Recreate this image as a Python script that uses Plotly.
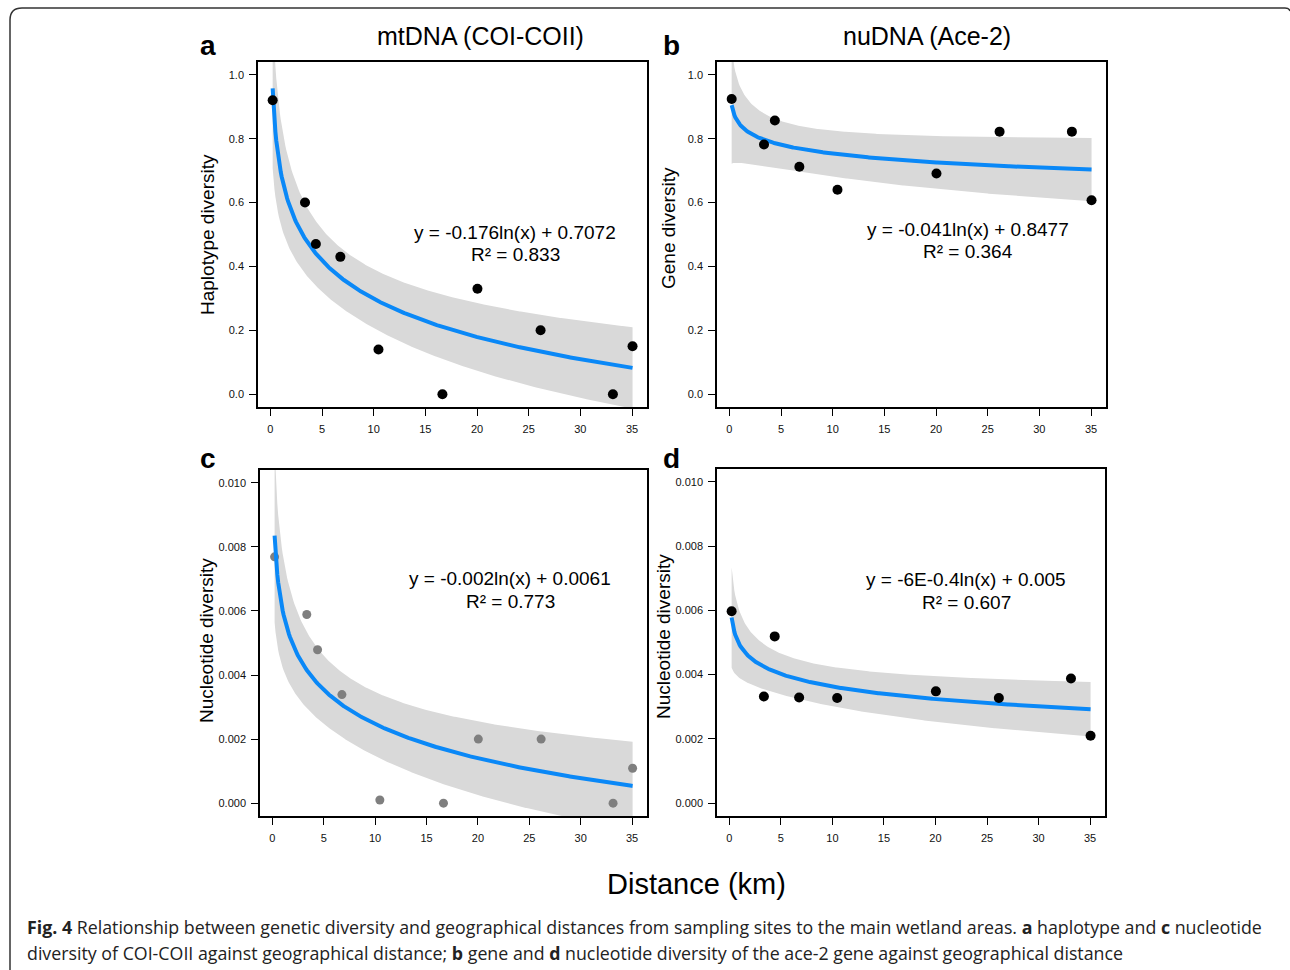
import numpy as np
import plotly.graph_objects as go

# ---------------- data ----------------
dist_mt = [0.22, 3.35, 4.4, 6.77, 10.46, 16.65, 20.04, 26.15, 33.15, 35.05]
dist_nu = [0.22, 3.35, 4.4, 6.77, 10.46, 20.04, 26.15, 33.15, 35.05]

hap_div = [0.92, 0.60, 0.47, 0.43, 0.14, 0.00, 0.33, 0.20, 0.00, 0.15]
gene_div = [0.924, 0.782, 0.857, 0.712, 0.640, 0.691, 0.822, 0.822, 0.607]
nuc_mt = [0.00769, 0.00589, 0.00479, 0.00339, 0.0001, 0.0, 0.0020, 0.0020, 0.0, 0.00109]
nuc_nu = [0.00597, 0.00332, 0.00519, 0.00329, 0.00327, 0.00348, 0.00327, 0.00388, 0.0021]

x_ticks = [0, 5, 10, 15, 20, 25, 30, 35]
y_ticks_hd = [0.0, 0.2, 0.4, 0.6, 0.8, 1.0]
y_ticks_hd_text = ["0.0", "0.2", "0.4", "0.6", "0.8", "1.0"]
y_ticks_pi = [0.0, 0.002, 0.004, 0.006, 0.008, 0.010]
y_ticks_pi_text = ["0.000", "0.002", "0.004", "0.006", "0.008", "0.010"]

panel_titles = ["mtDNA (COI-COII)", "nuDNA (Ace-2)"]
panel_letters = ["a", "b", "c", "d"]
y_titles = ["Haplotype diversity", "Gene diversity", "Nucleotide diversity", "Nucleotide diversity"]
equations = ["y = -0.176ln(x) + 0.7072", "y = -0.041ln(x) + 0.8477",
             "y = -0.002ln(x) + 0.0061", "y = -6E-0.4ln(x) + 0.005"]
r2_texts = ["R² = 0.833", "R² = 0.364", "R² = 0.773", "R² = 0.607"]

T_CRIT = {7: 2.3646, 8: 2.3060}  # 95% two-sided t quantiles

W, H = 1290, 970
BLUE = "#0A88F7"
BAND = "#D9D9D9"
FONT = "Liberation Sans, Arial, sans-serif"


def px_x(p):
    return p / W


def px_y(p):
    return 1 - p / H


def log_fit(x, y):
    x = np.asarray(x, float)
    y = np.asarray(y, float)
    lx = np.log(x)
    b, a = np.polyfit(lx, y, 1)
    n = len(x)
    resid = y - (a + b * lx)
    s = np.sqrt(np.sum(resid ** 2) / (n - 2))
    grid = np.linspace(x.min(), x.max(), 400)
    lg = np.log(grid)
    fit = a + b * lg
    sxx = np.sum((lx - lx.mean()) ** 2)
    se = s * np.sqrt(1.0 / n + (lg - lx.mean()) ** 2 / sxx)
    t = T_CRIT[n - 2]
    return grid, fit, fit - t * se, fit + t * se


panels = [
    dict(x=dist_mt, y=hap_div, yt=y_ticks_hd, ytt=y_ticks_hd_text, yr=[-0.04, 1.04],
         xd=[258, 647], yd=[62, 407], pt="black", psize=10, line_top=False),
    dict(x=dist_nu, y=gene_div, yt=y_ticks_hd, ytt=y_ticks_hd_text, yr=[-0.04, 1.04],
         xd=[717, 1106], yd=[62, 407], pt="black", psize=10, line_top=False),
    dict(x=dist_mt, y=nuc_mt, yt=y_ticks_pi, ytt=y_ticks_pi_text, yr=[-0.0004, 0.0104],
         xd=[260, 647], yd=[470, 816], pt="#7F7F7F", psize=9, line_top=True),
    dict(x=dist_nu, y=nuc_nu, yt=y_ticks_pi, ytt=y_ticks_pi_text, yr=[-0.0004, 0.0104],
         xd=[717, 1105], yd=[469, 816], pt="black", psize=10, line_top=False),
]

fig = go.Figure()
layout = dict(
    width=W, height=H, margin=dict(l=0, r=0, t=0, b=0),
    paper_bgcolor="white", plot_bgcolor="white", showlegend=False,
    font=dict(family=FONT, color="black"),
)

for i, p in enumerate(panels, start=1):
    xa = "x" if i == 1 else f"x{i}"
    ya = "y" if i == 1 else f"y{i}"
    grid, fit, lo, hi = log_fit(p["x"], p["y"])
    fig.add_trace(go.Scatter(
        x=np.concatenate([grid, grid[::-1]]), y=np.concatenate([hi, lo[::-1]]),
        fill="toself", fillcolor=BAND, line=dict(width=0), mode="lines",
        hoverinfo="skip", xaxis=xa, yaxis=ya))
    line_tr = go.Scatter(x=grid, y=fit, mode="lines", line=dict(color=BLUE, width=4),
                         xaxis=xa, yaxis=ya)
    pts_tr = go.Scatter(x=p["x"], y=p["y"], mode="markers",
                        marker=dict(color=p["pt"], size=p["psize"], line=dict(width=0)),
                        xaxis=xa, yaxis=ya, cliponaxis=False)
    if p["line_top"]:
        fig.add_trace(pts_tr)
        fig.add_trace(line_tr)
    else:
        fig.add_trace(line_tr)
        fig.add_trace(pts_tr)

    common = dict(showgrid=False, zeroline=False, showline=True, mirror=True,
                  linecolor="black", linewidth=1.6, ticks="outside", ticklen=7,
                  tickwidth=1.3, tickcolor="black",
                  tickfont=dict(size=11, family=FONT, color="#111"))
    layout["xaxis" if i == 1 else f"xaxis{i}"] = dict(
        common, domain=[px_x(p["xd"][0]), px_x(p["xd"][1])], range=[-1.2, 36.45],
        tickvals=x_ticks, anchor=ya, ticklabelstandoff=4)
    layout["yaxis" if i == 1 else f"yaxis{i}"] = dict(
        common, domain=[px_y(p["yd"][1]), px_y(p["yd"][0])], range=p["yr"],
        tickvals=p["yt"], ticktext=p["ytt"], anchor=xa, ticklabelstandoff=3)

annotations = []
# column titles
for txt, cx in zip(panel_titles, [480, 927]):
    annotations.append(dict(text=txt, x=px_x(cx), y=px_y(36), xref="paper", yref="paper",
                            showarrow=False, font=dict(size=25, family=FONT),
                            xanchor="center", yanchor="middle"))
# panel letters
for txt, (lx, ly) in zip(panel_letters, [(208, 45), (671, 45), (208, 458), (671, 458)]):
    annotations.append(dict(text=f"<b>{txt}</b>", x=px_x(lx), y=px_y(ly), xref="paper",
                            yref="paper", showarrow=False, font=dict(size=28, family=FONT),
                            xanchor="center", yanchor="middle"))
# y axis titles
for txt, (tx, ty) in zip(y_titles, [(207, 235), (668, 228), (206, 641), (663, 637)]):
    annotations.append(dict(text=txt, x=px_x(tx), y=px_y(ty), xref="paper", yref="paper",
                            showarrow=False, textangle=-90, font=dict(size=19, family=FONT),
                            xanchor="center", yanchor="middle"))
# equations
for eq, r2, (ex, ey) in zip(equations, r2_texts,
                            [(515, 232), (968, 229), (510, 578), (966, 579)]):
    annotations.append(dict(text=eq, x=px_x(ex), y=px_y(ey), xref="paper", yref="paper",
                            showarrow=False, font=dict(size=19, family=FONT),
                            xanchor="center", yanchor="middle"))
    annotations.append(dict(text=r2, x=px_x(ex), y=px_y(ey + 23), xref="paper", yref="paper",
                            showarrow=False, font=dict(size=19, family=FONT),
                            xanchor="center", yanchor="middle"))
# shared x title
annotations.append(dict(text="Distance (km)", x=px_x(696), y=px_y(884), xref="paper",
                        yref="paper", showarrow=False, font=dict(size=29, family=FONT),
                        xanchor="center", yanchor="middle"))
# caption
cap1 = ("<b>Fig. 4</b> Relationship between genetic diversity and geographical distances from "
        "sampling sites to the main wetland areas. <b>a</b> haplotype and <b>c</b> nucleotide")
cap2 = ("diversity of COI-COII against geographical distance; <b>b</b> gene and <b>d</b> "
        "nucleotide diversity of the ace-2 gene against geographical distance")
for txt, cy in [(cap1, 927), (cap2, 953)]:
    annotations.append(dict(text=txt, x=px_x(25), y=px_y(cy), xref="paper", yref="paper",
                            showarrow=False, font=dict(size=17.8, family="Open Sans", color="#222"),
                            xanchor="left", yanchor="middle"))
layout["annotations"] = annotations

# rounded frame (left edge and top edge only; right side runs off the page)
frame = (f"M {px_x(10)},{px_y(972)} L {px_x(10)},{px_y(20)} "
         f"Q {px_x(10)},{px_y(8)} {px_x(22)},{px_y(8)} "
         f"L {px_x(1285)},{px_y(8)} Q {px_x(1289)},{px_y(8)} {px_x(1290)},{px_y(11)}")
layout["shapes"] = [dict(type="path", path=frame, xref="paper", yref="paper",
                         line=dict(color="#333", width=1.5), layer="above")]

fig.update_layout(**layout)
fig.write_html("out.html", config={"displayModeBar": False},
               post_script="document.body.style.margin='0';")
